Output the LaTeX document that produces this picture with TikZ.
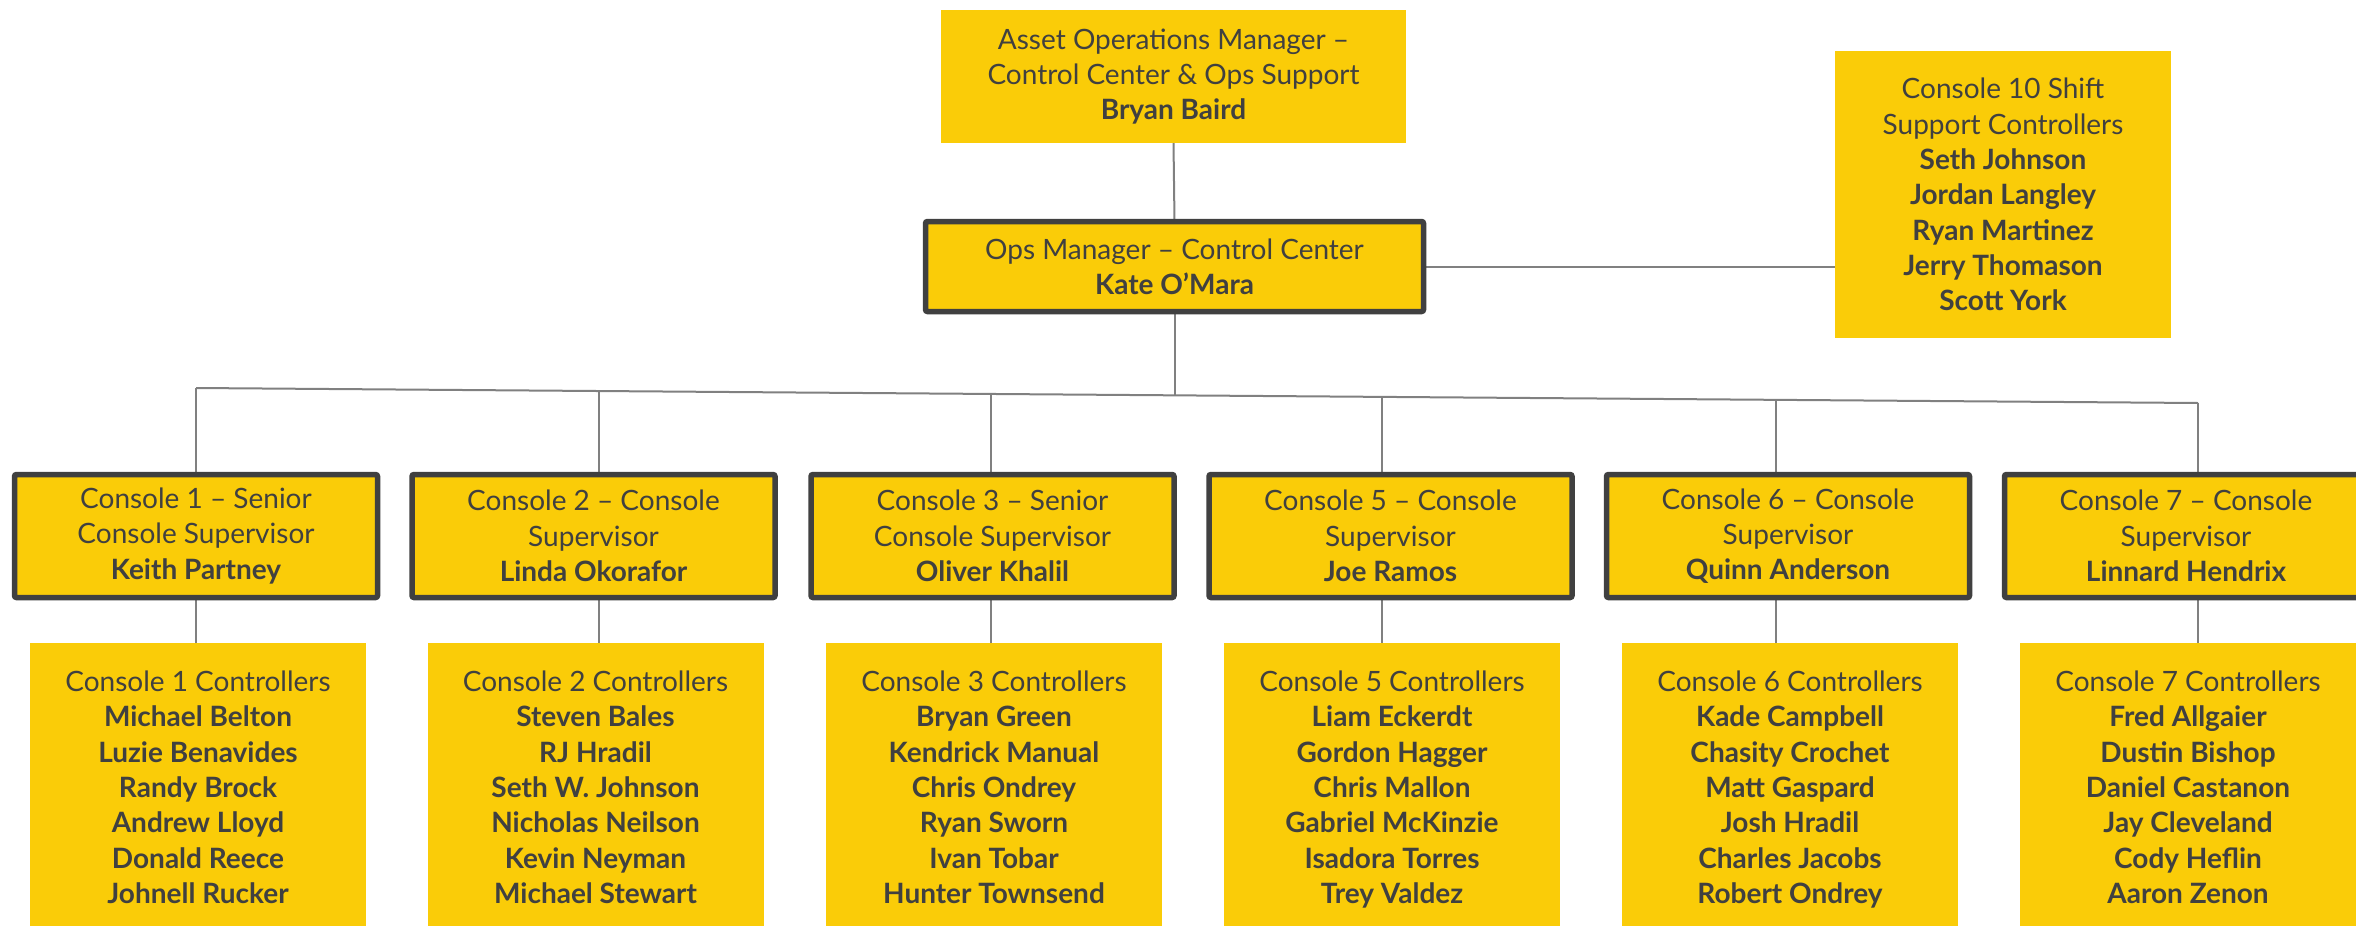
\documentclass[tikz,border=0pt]{standalone}
\usepackage{fontspec}
\setmainfont{Lato}
\usetikzlibrary{backgrounds}
\definecolor{boxfill}{RGB}{250,204,8}
\definecolor{ink}{RGB}{64,64,64}
\definecolor{wirecol}{RGB}{128,128,128}
\begin{document}
\begin{tikzpicture}[x=1pt,y=-1pt,
  every node/.style={inner sep=0pt, outer sep=0pt, align=center, text=ink,
    font=\fontsize{28}{35.3}\selectfont},
  plainbox/.style={fill=boxfill, draw=none},
  supbox/.style={fill=boxfill, draw=ink, line width=5.5pt, rounded corners=2pt,
    minimum width=363pt, minimum height=123pt},
  ctrlbox/.style={fill=boxfill, draw=none, minimum width=336pt, minimum height=299pt,
    execute at begin node=\strut, execute at end node=\strut},
  connector/.style={draw=wirecol, line width=2pt}]
\useasboundingbox (0,0) rectangle (2356,926);
\begin{scope}
\clip (0,0) rectangle (2356,926);
% top
\node[plainbox, minimum width=465pt, minimum height=133pt] (am) at (1173.5,76.5)
  {Asset Operations Manager –\\Control Center \& Ops Support\\\textbf{Bryan Baird}};
\node[supbox, minimum width=498pt, minimum height=90pt] (om) at (1174.5,266.5)
  {Ops Manager – Control Center\\\textbf{Kate O’Mara}};
\node[plainbox, minimum width=336pt, minimum height=287pt] (c10) at (2003,194.5)
  {Console 10 Shift\\Support Controllers\\\textbf{Seth Johnson}\\\textbf{Jordan Langley}\\\textbf{Ryan Martinez}\\\textbf{Jerry Thomason}\\\textbf{Scott York}};
% supervisors
\node[supbox] (s1) at (196,536) {Console 1 – Senior\\Console Supervisor\\\textbf{Keith Partney}};
\node[supbox] (s2) at (593.5,536) {Console 2 – Console\\Supervisor\\\textbf{Linda Okorafor}};
\node[supbox] (s3) at (992.5,536) {Console 3 – Senior\\Console Supervisor\\\textbf{Oliver Khalil}};
\node[supbox] (s5) at (1390.5,536) {Console 5 – Console\\Supervisor\\\textbf{Joe Ramos}};
\node[supbox] (s6) at (1788,536) {Console 6 – Console\\Supervisor\\\textbf{Quinn Anderson}};
\node[supbox] (s7) at (2186,536) {Console 7 – Console\\Supervisor\\\textbf{Linnard Hendrix}};
% controllers
\node[ctrlbox] (c1) at (198,792.5) {Console 1 Controllers\\\textbf{Michael Belton}\\\textbf{Luzie Benavides}\\\textbf{Randy Brock}\\\textbf{Andrew Lloyd}\\\textbf{Donald Reece}\\\textbf{Johnell Rucker}};
\node[ctrlbox] (c2) at (595.5,792.5) {Console 2 Controllers\\\textbf{Steven Bales}\\\textbf{RJ Hradil}\\\textbf{Seth W. Johnson}\\\textbf{Nicholas Neilson}\\\textbf{Kevin Neyman}\\\textbf{Michael Stewart}};
\node[ctrlbox] (c3) at (994,792.5) {Console 3 Controllers\\\textbf{Bryan Green}\\\textbf{Kendrick Manual}\\\textbf{Chris Ondrey}\\\textbf{Ryan Sworn}\\\textbf{Ivan Tobar}\\\textbf{Hunter Townsend}};
\node[ctrlbox] (c5) at (1392,792.5) {Console 5 Controllers\\\textbf{Liam Eckerdt}\\\textbf{Gordon Hagger}\\\textbf{Chris Mallon}\\\textbf{Gabriel McKinzie}\\\textbf{Isadora Torres}\\\textbf{Trey Valdez}};
\node[ctrlbox] (c6) at (1790,792.5) {Console 6 Controllers\\\textbf{Kade Campbell}\\\textbf{Chasity Crochet}\\\textbf{Matt Gaspard}\\\textbf{Josh Hradil}\\\textbf{Charles Jacobs}\\\textbf{Robert Ondrey}};
\node[ctrlbox] (c7) at (2188,792.5) {Console 7 Controllers\\\textbf{Fred Allgaier}\\\textbf{Dustin Bishop}\\\textbf{Daniel Castanon}\\\textbf{Jay Cleveland}\\\textbf{Cody Heflin}\\\textbf{Aaron Zenon}};
\end{scope}
% bus coordinates
\coordinate (b1) at (196,388);
\coordinate (b2) at (599,391);
\coordinate (b3) at (991,394);
\coordinate (bo) at (1174.5,395.3);
\coordinate (b5) at (1382,396.9);
\coordinate (b6) at (1776,399.8);
\coordinate (b7) at (2198,403);
\begin{scope}[on background layer]
\fill[white] (0,0) rectangle (2356,926);
\draw[connector] (am.south) -- (om.north);
\draw[connector] (om.east) -- (c10.west |- om.east);
\draw[connector] (om.south) -- (bo);
\draw[connector] (b1) -- (b7);
\foreach \i in {1,2,3,5,6,7}{
  \draw[connector] (b\i) -- (b\i |- s\i.north);
  \draw[connector] (b\i |- s\i.south) -- (b\i |- c\i.north);
}
\end{scope}
\end{tikzpicture}
\end{document}
